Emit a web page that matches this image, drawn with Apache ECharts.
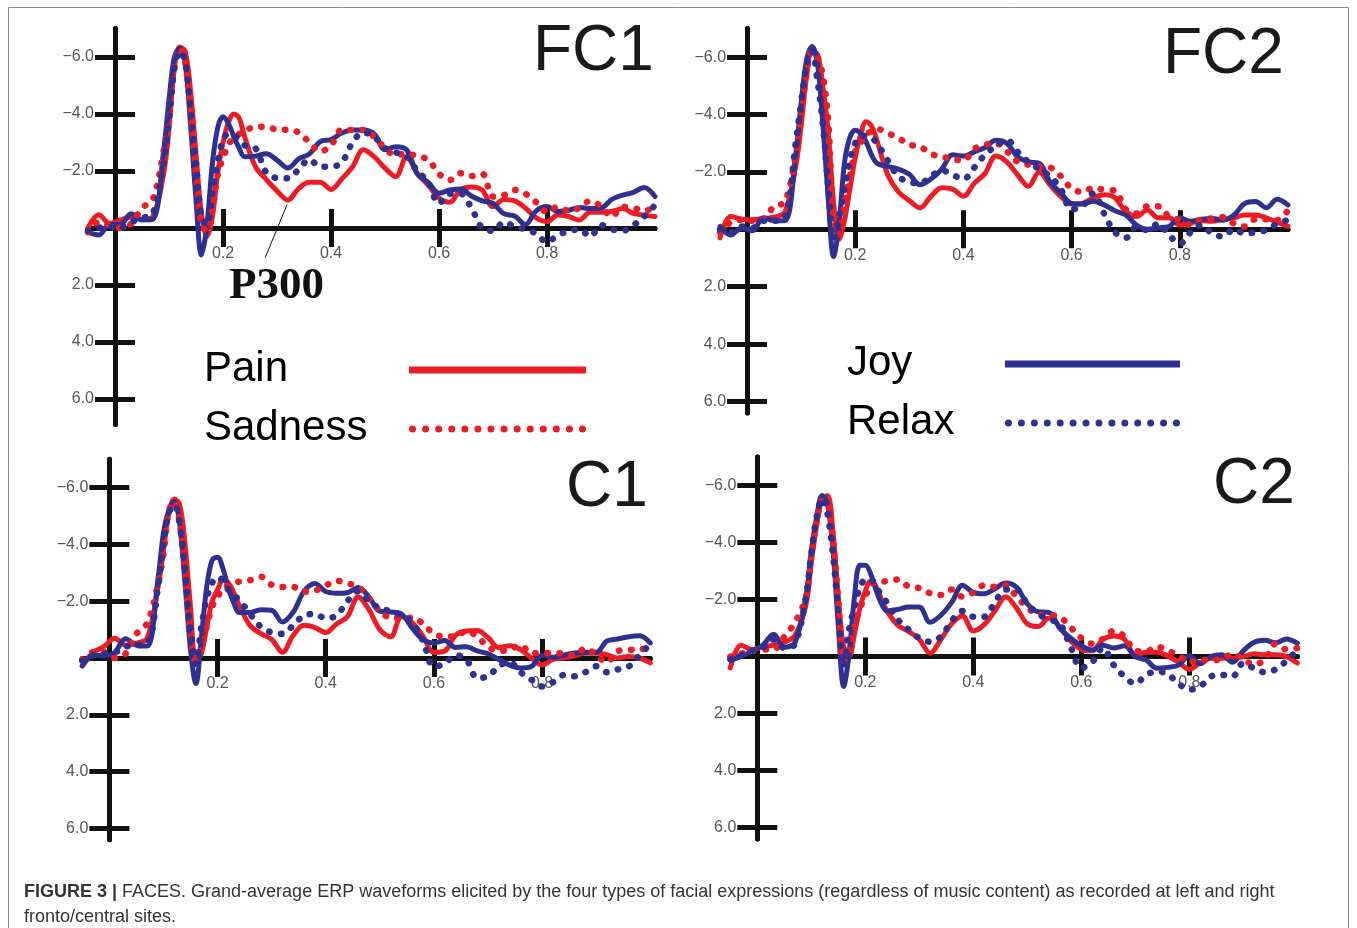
<!DOCTYPE html>
<html><head><meta charset="utf-8">
<script src="https://cdn.jsdelivr.net/npm/echarts@6/dist/echarts.min.js"></script>
<style>html,body{margin:0;padding:0;background:#fff;overflow:hidden}#c{width:1357px;height:928px}</style>
</head><body><div id="c"></div>
<script>
// ---------- DATA ----------
const T = [-0.05,-0.03,-0.01,0.01,0.03,0.05,0.07,0.09,
0.10,0.11,0.12,0.13,0.14,0.15,0.16,0.17,0.18,0.19,0.20,0.21,0.22,0.23,0.24,
0.26,0.28,0.30,0.32,0.34,0.36,0.38,0.40,0.42,0.44,0.46,0.48,0.50,0.52,0.54,0.56,0.58,0.60,0.62,0.64,0.66,0.68,0.70,0.72,0.74,0.76,0.78,0.80,0.82,0.84,0.86,0.88,0.90,0.92,0.94,0.96,0.98,1.00];

const FC1_PAIN = [0.0,-0.46,-0.16,-0.28,-0.38,-0.3,-0.4,-1.9,
-3.5,-5.6,-6.35,-6.2,-4.8,-2.6,-0.5,0.3,-0.35,-1.9,-3.0,-3.7,-4.0,-3.85,-3.2,
-2.15,-1.7,-1.3,-0.98,-1.38,-1.6,-1.6,-1.35,-1.72,-2.15,-2.74,-2.5,-2.1,-1.8,-2.5,-1.9,-1.5,-1.05,-0.9,-1.35,-1.44,-1.33,-0.74,-1.0,-0.95,-0.7,-0.35,-0.22,-0.45,-0.4,-0.28,-0.55,-0.55,-0.58,-0.68,-0.51,-0.45,-0.4];
const FC1_SADNESS = [0.15,-0.2,-0.1,0.0,-0.15,-0.7,-1.0,-2.7,
-3.9,-5.7,-6.3,-5.8,-4.1,-1.9,-0.1,0.1,-0.6,-1.85,-2.45,-2.9,-3.2,-3.3,-3.4,
-3.55,-3.55,-3.45,-3.44,-3.35,-3.0,-2.68,-2.9,-3.44,-3.44,-3.44,-3.2,-2.8,-2.55,-2.62,-2.5,-2.4,-1.9,-1.68,-1.92,-1.82,-1.9,-1.1,-1.15,-1.33,-1.2,-0.9,-0.56,-0.74,-0.6,-0.7,-0.95,-0.75,-0.4,-0.74,-0.7,-0.6,-0.74];
const FC1_JOY = [0.15,0.25,-0.12,-0.12,-0.5,-0.28,-0.3,-2.7,
-4.5,-6.0,-6.3,-5.8,-3.6,-1.0,0.95,-0.05,-2.2,-3.5,-3.9,-3.67,-3.2,-2.8,-2.5,
-2.52,-2.6,-2.38,-2.1,-2.42,-2.6,-3.03,-3.1,-3.33,-3.44,-3.44,-3.3,-2.75,-2.85,-2.74,-1.9,-1.6,-1.22,-1.33,-1.37,-1.12,-0.95,-0.86,-0.5,-0.42,-0.12,-0.6,-0.75,-0.58,-0.62,-0.72,-0.68,-0.7,-1.0,-1.15,-1.25,-1.42,-1.1];
const FC1_RELAX = [0.1,0.0,-0.05,0.0,-0.2,-0.35,-0.5,-2.27,
-3.8,-5.6,-6.2,-5.8,-4.1,-2.3,-0.4,-0.1,-1.2,-2.3,-3.09,-3.3,-3.25,-3.1,-2.9,
-2.8,-1.95,-1.75,-1.74,-2.05,-2.4,-2.15,-2.15,-2.3,-3.0,-3.35,-3.2,-2.8,-2.65,-2.5,-2.0,-1.6,-0.86,-1.2,-1.2,-0.7,0.0,0.1,-0.2,-0.05,0.05,0.2,0.5,0.25,0.12,0.05,0.3,-0.1,0.05,0.1,-0.1,-0.4,-0.8];

const FC2_PAIN = [0.3,-0.45,-0.35,-0.33,-0.38,-0.42,-0.6,-2.2,
-3.6,-5.3,-6.15,-6.1,-5.0,-3.4,-0.9,0.35,-0.3,-1.4,-2.5,-3.3,-3.75,-3.6,-3.1,
-1.9,-1.3,-1.0,-0.75,-1.15,-1.45,-1.4,-1.15,-1.6,-1.95,-2.55,-2.35,-1.9,-1.5,-2.0,-1.55,-1.15,-0.88,-0.9,-1.1,-1.2,-1.1,-0.62,-0.45,-0.67,-0.4,-0.4,-0.15,-0.22,-0.3,-0.28,-0.35,-0.4,-0.5,-0.5,-0.4,-0.25,-0.1];
const FC2_SADNESS = [0.1,-0.25,-0.33,-0.3,-0.35,-0.8,-0.95,-2.6,
-4.0,-5.45,-6.2,-6.0,-5.35,-3.8,-0.4,0.2,-0.9,-1.85,-2.7,-3.0,-3.3,-3.42,-3.5,
-3.35,-3.18,-2.95,-2.88,-2.63,-2.53,-2.45,-2.4,-2.8,-2.95,-3.0,-2.72,-2.35,-2.25,-2.18,-2.15,-1.85,-1.42,-1.3,-1.45,-1.38,-1.35,-0.7,-0.55,-0.8,-0.8,-0.45,-0.32,-0.15,-0.35,-0.38,-0.42,-0.2,-0.1,-0.35,-0.35,-0.32,-0.67];
const FC2_JOY = [-0.1,0.2,-0.05,0.05,-0.4,-0.3,-0.3,-2.6,
-4.4,-5.9,-6.37,-5.8,-3.7,-1.1,0.95,-0.2,-2.3,-3.2,-3.45,-3.35,-3.05,-2.6,-2.3,
-2.19,-2.1,-1.92,-1.55,-1.75,-2.1,-2.6,-2.55,-2.7,-2.85,-3.1,-3.0,-2.53,-2.35,-2.3,-1.65,-1.27,-0.9,-0.88,-0.98,-0.85,-0.65,-0.5,-0.15,0.0,-0.05,-0.1,-0.4,-0.28,-0.35,-0.38,-0.32,-0.5,-0.9,-0.97,-0.75,-1.05,-0.85];
const FC2_RELAX = [0.0,0.1,-0.1,-0.05,-0.3,-0.3,-0.4,-3.0,
-4.4,-5.7,-6.2,-5.2,-3.7,-1.5,0.35,-0.4,-1.4,-2.4,-3.0,-3.23,-3.25,-3.2,-3.0,
-2.4,-1.84,-1.65,-1.6,-1.85,-2.05,-1.9,-1.75,-2.15,-2.6,-2.9,-3.12,-2.7,-2.35,-2.1,-1.85,-1.4,-0.7,-0.8,-1.25,-0.55,0.1,0.3,-0.09,0.03,-0.2,0.2,0.5,0.1,-0.15,0.15,0.25,0.0,0.15,0.1,0.03,-0.2,-0.32];

const C1_PAIN = [0.28,-0.2,-0.4,-0.7,-0.45,-0.52,-0.7,-2.5,
-3.8,-5.1,-5.6,-5.4,-4.0,-1.8,0.1,-0.15,-1.1,-2.0,-2.4,-2.75,-2.65,-2.3,-1.85,
-1.15,-0.86,-0.66,-0.2,-0.8,-1.15,-1.07,-0.9,-1.2,-1.45,-2.15,-1.7,-1.0,-0.75,-1.45,-1.24,-0.76,-0.2,-0.25,-0.8,-0.95,-0.97,-0.72,-0.37,-0.43,-0.3,0.0,0.25,0.05,0.0,-0.08,-0.17,-0.17,-0.12,0.0,-0.05,0.0,0.17];
const C1_SADNESS = [0.05,-0.2,-0.2,0.0,-0.15,-0.85,-1.23,-2.6,
-3.67,-5.19,-5.5,-4.8,-2.9,-0.88,0.1,-0.35,-1.1,-1.8,-2.15,-2.45,-2.55,-2.62,-2.69,
-2.74,-2.86,-2.58,-2.5,-2.5,-2.33,-2.37,-2.55,-2.72,-2.63,-2.5,-2.1,-1.67,-1.42,-1.42,-1.42,-1.2,-0.85,-0.76,-0.76,-0.95,-0.75,-0.4,-0.25,-0.3,-0.45,-0.17,-0.17,-0.18,-0.15,-0.1,-0.35,-0.1,0.15,-0.25,-0.29,-0.29,-0.46];
const C1_JOY = [0.28,-0.1,-0.07,-0.2,-0.68,-0.45,-0.42,-2.8,
-4.4,-5.2,-5.5,-4.7,-2.6,-0.3,0.9,-0.7,-2.5,-3.45,-3.55,-3.15,-2.45,-1.95,-1.6,
-1.6,-1.7,-1.68,-1.27,-1.62,-2.35,-2.62,-2.34,-2.28,-2.3,-2.48,-2.15,-1.65,-1.62,-1.55,-1.05,-0.65,-0.53,-0.62,-0.37,-0.4,-0.25,-0.15,0.05,0.25,0.35,0.3,-0.1,-0.03,-0.1,-0.18,-0.2,-0.2,-0.6,-0.67,-0.75,-0.78,-0.53];
const C1_RELAX = [0.1,-0.1,-0.15,-0.2,-0.4,-0.45,-0.5,-2.5,
-4.0,-5.1,-5.4,-4.7,-3.0,-1.0,0.2,-1.1,-2.1,-2.65,-2.85,-2.72,-2.4,-2.2,-2.05,
-1.55,-1.1,-0.9,-0.85,-1.15,-1.5,-1.55,-1.4,-1.5,-2.0,-2.35,-2.0,-1.75,-1.65,-1.5,-1.24,-0.59,0.3,0.2,-0.1,0.05,0.7,0.65,0.28,0.15,0.5,0.76,1.0,0.85,0.6,0.64,0.5,0.29,0.5,0.4,0.3,-0.1,-0.5];

const C2_PAIN = [0.4,-0.4,-0.25,-0.33,-0.4,-0.5,-0.75,-1.8,
-3.3,-4.6,-5.5,-5.65,-4.4,-2.1,-0.3,0.0,-0.8,-1.7,-2.3,-2.65,-2.45,-2.0,-1.6,
-1.1,-0.88,-0.6,-0.12,-0.6,-1.15,-1.42,-0.9,-1.12,-1.6,-2.1,-1.7,-1.15,-1.05,-1.35,-1.05,-0.55,-0.25,-0.2,-0.6,-0.72,-0.6,-0.05,-0.15,-0.15,-0.02,0.2,0.45,0.22,0.06,0.06,0.06,0.0,-0.1,-0.06,-0.06,0.0,0.23];
const C2_SADNESS = [0.0,-0.1,-0.2,-0.25,-0.25,-0.7,-1.2,-2.1,
-3.5,-4.8,-5.45,-5.4,-4.1,-1.95,0.2,-0.3,-1.1,-1.7,-2.1,-2.5,-2.62,-2.62,-2.65,
-2.7,-2.46,-2.4,-2.22,-2.16,-2.35,-2.1,-2.25,-2.5,-2.45,-2.5,-2.1,-1.73,-1.47,-1.45,-1.39,-1.03,-0.65,-0.45,-0.62,-0.9,-0.7,-0.2,-0.18,-0.35,-0.2,-0.05,0.2,0.12,0.12,0.1,-0.1,0.1,0.28,0.1,-0.45,-0.25,-0.3];
const C2_JOY = [0.12,0.0,-0.2,-0.4,-0.78,-0.33,-0.5,-2.1,
-3.7,-4.9,-5.65,-5.35,-3.8,-1.1,1.05,-0.1,-2.1,-3.2,-3.2,-2.9,-2.33,-1.85,-1.6,
-1.65,-1.74,-1.74,-1.2,-1.45,-1.9,-2.5,-2.25,-2.2,-2.38,-2.58,-2.43,-1.85,-1.57,-1.55,-1.0,-0.65,-0.38,-0.23,-0.4,-0.3,-0.38,0.0,0.12,0.41,0.38,0.3,-0.03,0.25,0.0,-0.06,0.2,-0.2,-0.5,-0.57,-0.48,-0.62,-0.47];
const C2_RELAX = [0.1,-0.05,-0.2,-0.3,-0.6,-0.3,-0.45,-2.1,
-3.6,-4.9,-5.55,-5.0,-3.6,-1.6,0.35,-0.95,-1.75,-2.4,-2.7,-2.7,-2.44,-2.15,-1.9,
-1.3,-0.95,-0.65,-0.52,-0.7,-1.25,-1.6,-1.4,-1.4,-1.9,-2.35,-2.35,-1.85,-1.5,-1.3,-1.16,-0.35,0.4,0.2,-0.3,0.3,0.7,0.95,0.65,0.52,0.62,0.95,1.16,1.05,0.7,0.64,0.7,0.23,0.42,0.55,0.45,0.15,-0.23];

const X_MIN = -0.05, X_MAX = 1.0, Y_MIN = -7;
const X_TICKS = [0.2, 0.4, 0.6, 0.8];
const Y_TICKS = [-6, -4, -2, 0, 2, 4, 6];
const Y_LABELS = [-6, -4, -2, 2, 4, 6];
const PANEL_NAMES = ['FC1', 'FC2', 'C1', 'C2'];
const PANEL_DATA = {
  FC1: {Pain: FC1_PAIN, Sadness: FC1_SADNESS, Joy: FC1_JOY, Relax: FC1_RELAX},
  FC2: {Pain: FC2_PAIN, Sadness: FC2_SADNESS, Joy: FC2_JOY, Relax: FC2_RELAX},
  C1:  {Pain: C1_PAIN,  Sadness: C1_SADNESS,  Joy: C1_JOY,  Relax: C1_RELAX},
  C2:  {Pain: C2_PAIN,  Sadness: C2_SADNESS,  Joy: C2_JOY,  Relax: C2_RELAX}
};
// P300 annotation pointer (data space of FC1): from / to
const P300_FROM = [0.3185, -0.81];
const P300_TO = [0.278, 1.05];
const CAPTION_BOLD = 'FIGURE 3 |';
const CAPTION_TEXT = ' FACES. Grand-average ERP waveforms elicited by the four types of facial expressions (regardless of music content) as recorded at left and right\nfronto/central sites.';

// ---------- STYLE / LAYOUT ----------
const FONT = '"Liberation Sans", Arial, Helvetica, sans-serif';
const RED = '#ED1C24', BLUE = '#2E3192', AXIS = '#111111';
const LAYOUT = {
  FC1: {grid: {left: 88,  top: 28.5, width: 567, height: 396}, ymax: 6.9, title: {left: 533, top: 20.5}},
  FC2: {grid: {left: 720, top: 28.4, width: 568, height: 384.6}, ymax: 6.4, title: {left: 1163, top: 23.5}},
  C1:  {grid: {left: 82.3, top: 459.2, width: 568, height: 380.6}, ymax: 6.4, title: {left: 566, top: 456}},
  C2:  {grid: {left: 730.3, top: 457, width: 567, height: 382}, ymax: 6.4, title: {left: 1213, top: 453}}
};
const SERIES_STYLE = {
  Pain:    {color: RED,  dotted: false},
  Sadness: {color: RED,  dotted: true},
  Joy:     {color: BLUE, dotted: false},
  Relax:   {color: BLUE, dotted: true}
};
const DRAW_ORDER = ['Pain', 'Joy', 'Sadness', 'Relax'];

function dotIcon(n, w, d) {
  const r = d / 2, gap = (w - d) / (n - 1);
  let p = 'path://';
  for (let i = 0; i < n; i++) {
    const cx = r + i * gap;
    p += 'M' + (cx - r).toFixed(2) + ' ' + r + 'A' + r + ' ' + r + ' 0 1 1 ' + (cx + r).toFixed(2) + ' ' + r +
         'A' + r + ' ' + r + ' 0 1 1 ' + (cx - r).toFixed(2) + ' ' + r + 'Z';
  }
  return p;
}

const grids = [], xAxes = [], yAxes = [], series = [], titles = [];
PANEL_NAMES.forEach((pn, i) => {
  const L = LAYOUT[pn];
  grids.push(Object.assign({containLabel: false}, L.grid));
  // place axes on the zero lines via offsets (label-safe)
  const xOff = -L.grid.height * L.ymax / (L.ymax - Y_MIN);
  const yOff = -L.grid.width * (0 - X_MIN) / (X_MAX - X_MIN);
  const xBase = {
    type: 'value', gridIndex: i, min: X_MIN, max: X_MAX, position: 'bottom', offset: xOff,
    axisLine: {show: true, onZero: false, lineStyle: {color: AXIS, width: 5}},
    splitLine: {show: false}
  };
  xAxes.push(Object.assign({}, xBase, {
    axisTick: {show: true, customValues: X_TICKS, length: 19, lineStyle: {color: AXIS, width: 5}},
    axisLabel: {show: true, customValues: X_TICKS, formatter: v => v.toFixed(1), margin: 18,
      color: '#555', fontSize: 16, fontFamily: FONT}
  }));
  xAxes.push(Object.assign({}, xBase, {
    axisTick: {show: true, inside: true, customValues: X_TICKS, length: 19, lineStyle: {color: AXIS, width: 5}},
    axisLabel: {show: false}
  }));
  const yBase = {
    type: 'value', gridIndex: i, min: Y_MIN, max: L.ymax, inverse: true, position: 'left', offset: yOff,
    axisLine: {show: true, onZero: false, lineStyle: {color: AXIS, width: 5}},
    splitLine: {show: false}
  };
  yAxes.push(Object.assign({}, yBase, {
    axisTick: {show: true, customValues: Y_TICKS, length: 20, lineStyle: {color: AXIS, width: 5}},
    axisLabel: {show: true, customValues: Y_LABELS, margin: 21, color: '#555', fontSize: 16, fontFamily: FONT,
      formatter: v => (v < 0 ? '\u2212' : '') + Math.abs(v).toFixed(1)}
  }));
  yAxes.push(Object.assign({}, yBase, {
    axisTick: {show: true, inside: true, customValues: Y_TICKS, length: 20, lineStyle: {color: AXIS, width: 5}},
    axisLabel: {show: false}
  }));
  DRAW_ORDER.forEach(sn => {
    const st = SERIES_STYLE[sn];
    const vals = PANEL_DATA[pn][sn];
    const s = {
      type: 'line', name: sn, xAxisIndex: 2 * i, yAxisIndex: 2 * i,
      data: T.map((t, k) => [t, vals[k]]),
      showSymbol: false, symbol: 'none', smooth: 0.35,
      color: st.color,
      itemStyle: {color: st.color},
      lineStyle: st.dotted
        ? {color: st.color, width: 6.5, type: [0.5, 11.5], cap: 'round', join: 'round'}
        : {color: st.color, width: 5, type: 'solid', cap: 'round', join: 'round'},
      emphasis: {disabled: true},
      animation: false
    };
    if (pn === 'FC1' && sn === 'Pain') {
      s.markLine = {
        silent: true, symbol: ['none', 'none'], animation: false, label: {show: false},
        lineStyle: {color: '#111', width: 1, type: 'solid'},
        emphasis: {disabled: true},
        data: [[{coord: P300_FROM}, {coord: P300_TO}]]
      };
    }
    series.push(s);
  });
  titles.push({text: pn, left: L.title.left, top: L.title.top, padding: 0,
    textStyle: {fontSize: 64, fontWeight: 'normal', color: '#1a1a1a', fontFamily: FONT}});
});
titles.push({text: 'P300', left: 229, top: 264, padding: 0,
  textStyle: {fontFamily: '"Liberation Serif", "Times New Roman", serif', fontWeight: 'bold', fontSize: 45, color: '#111'}});
titles.push({text: '{b|' + CAPTION_BOLD + '}' + CAPTION_TEXT, left: 24, top: 880, padding: 0,
  textStyle: {fontFamily: FONT, fontSize: 18, fontWeight: 'normal', color: '#333', lineHeight: 25,
    rich: {b: {fontFamily: FONT, fontSize: 18, fontWeight: 'bold', color: '#333', lineHeight: 25}}}});

function legendCfg(names, left, top, textW, itemW) {
  return {
    orient: 'vertical', left: left, top: top, padding: 0, itemGap: 15, align: 'right',
    itemWidth: itemW, itemHeight: 7, selectedMode: false,
    itemStyle: {borderWidth: 0},
    data: names.map(n => ({name: n, icon: SERIES_STYLE[n].dotted ? dotIcon(14, itemW, 7) : 'rect'})),
    formatter: n => '{a|' + n + '}',
    textStyle: {rich: {a: {width: textW, align: 'left', fontSize: 42, lineHeight: 46, padding: [0, 0, 2, 0],
      fontFamily: FONT, color: '#000'}}}
  };
}

const option = {
  animation: false,
  backgroundColor: '#ffffff',
  grid: grids, xAxis: xAxes, yAxis: yAxes, series: series, title: titles,
  legend: [
    legendCfg(['Pain', 'Sadness'], 204, 348, 200, 177),
    legendCfg(['Joy', 'Relax'], 847, 342, 153, 175)
  ],
  graphic: [{type: 'rect', silent: true, shape: {x: 8.5, y: 7.5, width: 1340, height: 940},
    style: {fill: 'none', stroke: '#8a8a8a', lineWidth: 1}}]
};
const chart = echarts.init(document.getElementById('c'), null, {renderer: 'canvas'});
chart.setOption(option);
</script>
</body></html>
